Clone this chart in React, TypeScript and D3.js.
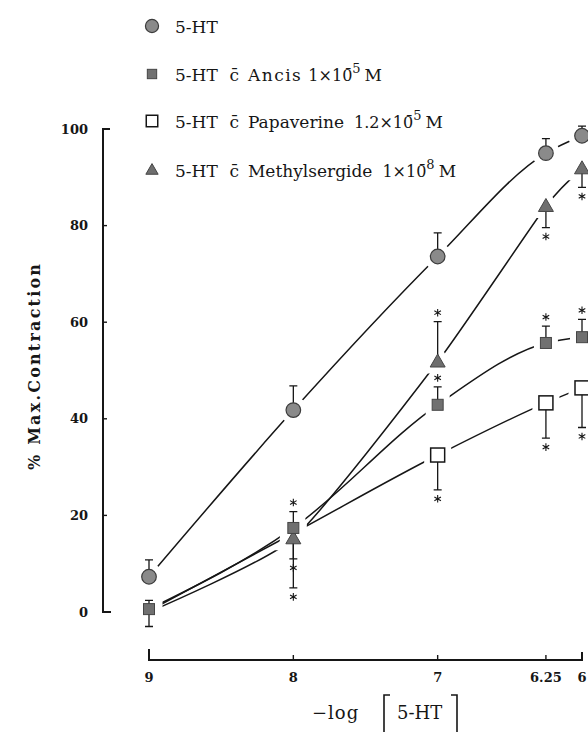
import React from "react";
import * as d3 from "d3";

// -log[5-HT] doses and their tick labels
const DOSES = [9, 8, 7, 6.25, 6];
const DOSE_LABELS = ["9", "8", "7", "6.25", "6"];
const Y_TICKS = [0, 20, 40, 60, 80, 100];

// % maximal contraction (mean) and the end of each SEM bar
const SEROTONIN = [7.3, 41.8, 73.6, 95.0, 98.6];
const SEROTONIN_SEM_UP = [10.8, 46.8, 78.5, 98.0, 100.6];

const ANCIS = [0.6, 17.4, 42.9, 55.7, 56.9];
const ANCIS_SEM_UP = [2.4, 20.8, 46.6, 59.2, 60.6];
const ANCIS_SEM_DOWN = [-3.0, null, null, null, null];
const ANCIS_SIG_UP = [false, true, true, true, true];

const PAPAVERINE = [0.2, 16.3, 32.5, 43.3, 46.4];
const PAPAVERINE_SEM_DOWN = [null, 11.0, 25.3, 36.0, 38.2];
const PAPAVERINE_SIG_DOWN = [false, true, true, true, true];
// symbols hidden under overlapping points at the low doses
const PAPAVERINE_SYMBOL = [false, false, true, true, true];

const METHYSERGIDE = [0.0, 15.2, 51.8, 84.0, 91.8];
const METHYSERGIDE_SEM_UP = [null, null, 60.1, null, null];
const METHYSERGIDE_SEM_DOWN = [null, 5.0, null, 79.6, 87.9];
const METHYSERGIDE_SIG_UP = [false, false, true, false, false];
const METHYSERGIDE_SIG_DOWN = [false, true, false, true, true];
const METHYSERGIDE_SYMBOL = [false, true, true, true, true];

// legend wording
const LEGEND_AGENTS = ["", "Ancis", "Papaverine", "Methylsergide"];
const LEGEND_CONC = ["", "1×10\u0304", "1.2×10\u0304", "1×10\u0304"];
const LEGEND_EXP = ["", "5", "5", "8"];

type Shape = "circle" | "square" | "openSquare" | "triangle";
type Series = {
  key: string;
  shape: Shape;
  values: number[];
  up: (number | null)[];
  down: (number | null)[];
  sigUp: boolean[];
  sigDown: boolean[];
  symbol: boolean[];
  curve: d3.CurveFactory;
};

const none = DOSES.map(() => null);
const noSig = DOSES.map(() => false);
const allSymbols = DOSES.map(() => true);

const treatedCurve = d3.curveCardinal.tension(0.45);

// drawn back to front
const SERIES: Series[] = [
  { key: "papaverine", shape: "openSquare", values: PAPAVERINE, up: none, down: PAPAVERINE_SEM_DOWN, sigUp: noSig, sigDown: PAPAVERINE_SIG_DOWN, symbol: PAPAVERINE_SYMBOL, curve: d3.curveMonotoneX },
  { key: "methysergide", shape: "triangle", values: METHYSERGIDE, up: METHYSERGIDE_SEM_UP, down: METHYSERGIDE_SEM_DOWN, sigUp: METHYSERGIDE_SIG_UP, sigDown: METHYSERGIDE_SIG_DOWN, symbol: METHYSERGIDE_SYMBOL, curve: treatedCurve },
  { key: "ancis", shape: "square", values: ANCIS, up: ANCIS_SEM_UP, down: ANCIS_SEM_DOWN, sigUp: ANCIS_SIG_UP, sigDown: noSig, symbol: allSymbols, curve: d3.curveMonotoneX },
  { key: "serotonin", shape: "circle", values: SEROTONIN, up: SEROTONIN_SEM_UP, down: none, sigUp: noSig, sigDown: noSig, symbol: allSymbols, curve: d3.curveMonotoneX },
];

const INK = "#161616";
const SERIF = "'DejaVu Serif', serif";

function Marker({ shape, cx, cy, halo = false, scale = 1 }: { shape: Shape; cx: number; cy: number; halo?: boolean; scale?: number }) {
  const haloProps = halo ? { fill: "#fff", stroke: "#fff", strokeWidth: 13 } : null;
  if (shape === "circle") {
    const r = 7.3 * scale;
    return <circle cx={cx} cy={cy} r={r} {...(haloProps || { fill: "#8a8a8a", stroke: "#3c3c3c", strokeWidth: 1.2 })} />;
  }
  if (shape === "square") {
    const s = 11 * scale;
    return <rect x={cx - s / 2} y={cy - s / 2} width={s} height={s} {...(haloProps || { fill: "#707070", stroke: "#454545", strokeWidth: 1 })} />;
  }
  if (shape === "openSquare") {
    const s = 14 * scale;
    return <rect x={cx - s / 2} y={cy - s / 2} width={s} height={s} {...(haloProps || { fill: "#fff", stroke: INK, strokeWidth: 1.5 })} />;
  }
  const b = 15 * scale;
  const h = 13 * scale;
  const pts = `${cx},${cy - h * 0.6} ${cx + b / 2},${cy + h * 0.4} ${cx - b / 2},${cy + h * 0.4}`;
  return <polygon points={pts} {...(haloProps || { fill: "#6e6e6e", stroke: "#454545", strokeWidth: 1, strokeLinejoin: "round" as const })} />;
}

function Asterisk({ cx, cy }: { cx: number; cy: number }) {
  const r = 3.8;
  const d = [90, 30, 150]
    .map((a) => {
      const t = (a * Math.PI) / 180;
      const dx = r * Math.cos(t);
      const dy = r * Math.sin(t);
      return `M${cx - dx},${cy - dy}L${cx + dx},${cy + dy}`;
    })
    .join("");
  return <path d={d} stroke={INK} strokeWidth={1.1} fill="none" />;
}

export default function App() {
  const W = 588;
  const H = 732;

  const x = d3.scaleLinear().domain([9, 6]).range([149, 582]);
  const y = d3.scaleLinear().domain([0, 100]).range([612, 129]);
  const makeLine = (curve: d3.CurveFactory) =>
    d3
      .line<number>()
      .x((_, i) => x(DOSES[i]))
      .y((v) => y(v))
      .curve(curve);

  const axisX = 103;
  const axisY = 660;

  const legendRows: Shape[] = ["circle", "square", "openSquare", "triangle"];
  const legendBaselines = [33, 81, 128, 177];

  return (
    <svg width={W} height={H} style={{ position: "absolute", left: 0, top: 0, background: "#fff" }} fontFamily={SERIF}>
      <rect width={W} height={H} fill="#fff" />

      {/* y axis */}
      <path d={`M${axisX + 7},${y(100)}H${axisX}V${y(0)}H${axisX + 8}`} fill="none" stroke={INK} strokeWidth={2} />
      {Y_TICKS.map((t) => (
        <g key={t}>
          {t > 0 && t < 100 && <line x1={axisX} x2={axisX + 4} y1={y(t)} y2={y(t)} stroke={INK} strokeWidth={1.4} />}
          <text x={88} y={y(t)} dy="0.36em" textAnchor="end" fontSize={13} fontWeight="bold" fill={INK}>
            {t}
          </text>
        </g>
      ))}
      <text
        transform={`translate(40,${367}) rotate(-90)`}
        textAnchor="middle"
        fontSize={16}
        fontWeight="bold"
        fill={INK}
        textLength={206}
        lengthAdjust="spacing"
      >
        % Max.Contraction
      </text>

      {/* x axis */}
      <path d={`M${x(9)},${axisY - 11}V${axisY}H${x(6)}V${axisY - 8}`} fill="none" stroke={INK} strokeWidth={2} />
      {DOSES.map((d, i) => (
        <g key={d}>
          {i > 0 && i < DOSES.length - 1 && <line x1={x(d)} x2={x(d)} y1={axisY} y2={axisY - 5} stroke={INK} strokeWidth={1.4} />}
          <text x={x(d)} y={682} textAnchor="middle" fontSize={13} fontWeight="bold" fill={INK}>
            {DOSE_LABELS[i]}
          </text>
        </g>
      ))}
      <text x={312} y={719} fontSize={18} fill={INK} letterSpacing={1}>
        −log
      </text>
      <path d="M390,695H384V732" fill="none" stroke={INK} strokeWidth={1.6} />
      <text x={397} y={719} fontSize={18} fill={INK}>
        5-HT
      </text>
      <path d="M451,695H457V732" fill="none" stroke={INK} strokeWidth={1.6} />

      {/* response curves */}
      {SERIES.map((s) => (
        <path key={s.key} d={makeLine(s.curve)(s.values) || ""} fill="none" stroke={INK} strokeWidth={1.5} />
      ))}

      {/* white gaps around the data points */}
      {SERIES.map((s) =>
        s.values.map((v, i) => <Marker key={`${s.key}-h-${i}`} shape={s.shape} cx={x(DOSES[i])} cy={y(v)} halo />)
      )}

      {/* SEM bars with significance marks */}
      {SERIES.map((s) =>
        s.values.map((v, i) => {
          const cx = x(DOSES[i]);
          const parts: React.ReactNode[] = [];
          const up = s.up[i];
          const down = s.down[i];
          if (up != null) {
            parts.push(
              <path key="u" d={`M${cx},${y(v)}V${y(up)}M${cx - 4},${y(up)}H${cx + 4}`} stroke={INK} strokeWidth={1.3} fill="none" />
            );
            if (s.sigUp[i]) parts.push(<Asterisk key="us" cx={cx} cy={y(up) - 9} />);
          }
          if (down != null) {
            parts.push(
              <path key="d" d={`M${cx},${y(v)}V${y(down)}M${cx - 4},${y(down)}H${cx + 4}`} stroke={INK} strokeWidth={1.3} fill="none" />
            );
            if (s.sigDown[i]) parts.push(<Asterisk key="ds" cx={cx} cy={y(down) + 9} />);
          }
          return <g key={`${s.key}-e-${i}`}>{parts}</g>;
        })
      )}

      {/* data points */}
      {SERIES.map((s) =>
        s.values.map((v, i) =>
          s.symbol[i] ? <Marker key={`${s.key}-m-${i}`} shape={s.shape} cx={x(DOSES[i])} cy={y(v)} /> : null
        )
      )}

      {/* legend */}
      {legendRows.map((shape, r) => {
        const base = legendBaselines[r];
        return (
          <g key={shape}>
            <Marker shape={shape} cx={152} cy={base - 7} scale={shape === "circle" ? 0.9 : shape === "square" ? 0.85 : 0.82} />
            <text x={175} y={base} fontSize={17} fill={INK}>
              <tspan>5-HT</tspan>
              {r > 0 && (
                <>
                  <tspan dx={13}>{"c\u0304"}</tspan>
                  <tspan dx={9} letterSpacing={r === 1 ? 1.5 : 0}>
                    {LEGEND_AGENTS[r]}
                  </tspan>
                  <tspan dx={r === 1 ? 6 : 10} fontSize={16}>
                    {LEGEND_CONC[r]}
                  </tspan>
                  <tspan dy={-8} fontSize={13}>
                    {LEGEND_EXP[r]}
                  </tspan>
                  <tspan dx={4} dy={8}>
                    M
                  </tspan>
                </>
              )}
            </text>
          </g>
        );
      })}
    </svg>
  );
}
